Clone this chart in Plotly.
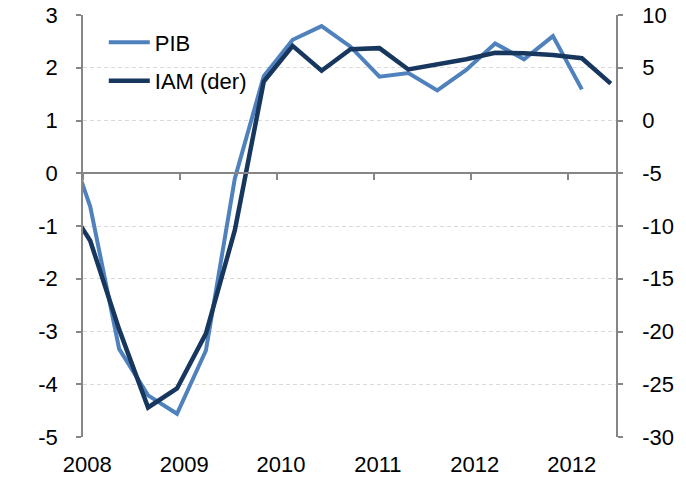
import plotly.graph_objects as go

# quarterly index; -1 sits just left of the visible window (line is clipped there)
quarters = list(range(-1, 19))

# PIB, % (left axis) - last quarter not yet published
pib = [0.95, -0.63, -3.33, -4.21, -4.56, -3.36, -0.10, 1.84, 2.53, 2.79,
       2.40, 1.83, 1.90, 1.57, 1.96, 2.46, 2.16, 2.60, 1.59, None]

# IAM, % (right axis)
iam = [-7.1, -11.4, -19.8, -27.2, -25.4, -20.2, -10.4, 3.7, 7.07, 4.72,
       6.76, 6.86, 4.84, 5.3, 5.8, 6.41, 6.37, 6.2, 5.9, 3.5]

tick_pos = [-0.24, 3.11, 6.46, 9.81, 13.16, 16.51]
tick_labels = ["2008", "2009", "2010", "2011", "2012", "2012"]

left_vals = [-5, -4, -3, -2, -1, 0, 1, 2, 3]
left_labels = ["-5", "-4", "-3", "-2", "-1", "0", "1", "2", "3"]
right_vals = [-30, -25, -20, -15, -10, -5, 0, 5, 10]
right_labels = ["-30", "-25", "-20", "-15", "-10", "-5", "0", "5", "10"]

x_range = [-0.25, 18.18]
axis_grey = "#868686"

fig = go.Figure()
fig.add_trace(go.Scatter(x=quarters, y=pib, mode="lines", name="PIB",
                         line=dict(color="#4f81bd", width=4),
                         legendgroup="a"))
fig.add_trace(go.Scatter(x=quarters, y=iam, mode="lines", name="IAM (der)",
                         line=dict(color="#17375e", width=4.5),
                         xaxis="x2", yaxis="y2", legendgroup="b"))

fig.update_layout(
    width=686, height=482,
    margin=dict(l=83, r=70, t=15, b=45, autoexpand=False),
    plot_bgcolor="white", paper_bgcolor="white",
    font=dict(family="Liberation Sans, Arial", size=22, color="black"),
    showlegend=True,
    legend=dict(x=0.039, y=0.985, xanchor="left", yanchor="top",
                bgcolor="rgba(0,0,0,0)", traceorder="grouped",
                tracegroupgap=7, itemwidth=41, font=dict(size=22)),
    xaxis=dict(range=x_range, tickvals=tick_pos, ticktext=tick_labels,
               showgrid=False, zeroline=False, showline=False, ticks="",
               ticklabelshift=4, ticklabelstandoff=12, automargin=False),
    xaxis2=dict(range=x_range, overlaying="x", anchor="free", position=0.625,
                tickvals=tick_pos, showticklabels=False, showgrid=False,
                zeroline=False, showline=True, linecolor=axis_grey,
                linewidth=1.5, ticks="outside", ticklen=6, tickcolor=axis_grey,
                tickwidth=1.5, automargin=False),
    yaxis=dict(range=[-5, 3], tickvals=left_vals, ticktext=left_labels,
               showgrid=True, gridcolor="#d9d9d9",
               griddash="4px,3px", gridwidth=1, zeroline=False,
               showline=True, linecolor=axis_grey, linewidth=1.5,
               ticks="outside", ticklen=5, tickcolor=axis_grey, tickwidth=1.5,
               ticklabelstandoff=14, ticklabeloverflow="allow",
               automargin=False),
    yaxis2=dict(range=[-30, 10], tickvals=right_vals, ticktext=right_labels,
                overlaying="y", side="right",
                anchor="x2", showgrid=False, zeroline=False,
                showline=True, linecolor=axis_grey, linewidth=1.5,
                ticks="outside", ticklen=5, tickcolor=axis_grey, tickwidth=1.5,
                ticklabelstandoff=15, ticklabeloverflow="allow",
                automargin=False),
)

# drop the default 8px body margin so the figure fills the window exactly
fig.write_html("out.html", config={"displayModeBar": False},
               post_script="document.body.style.margin = '0';")
